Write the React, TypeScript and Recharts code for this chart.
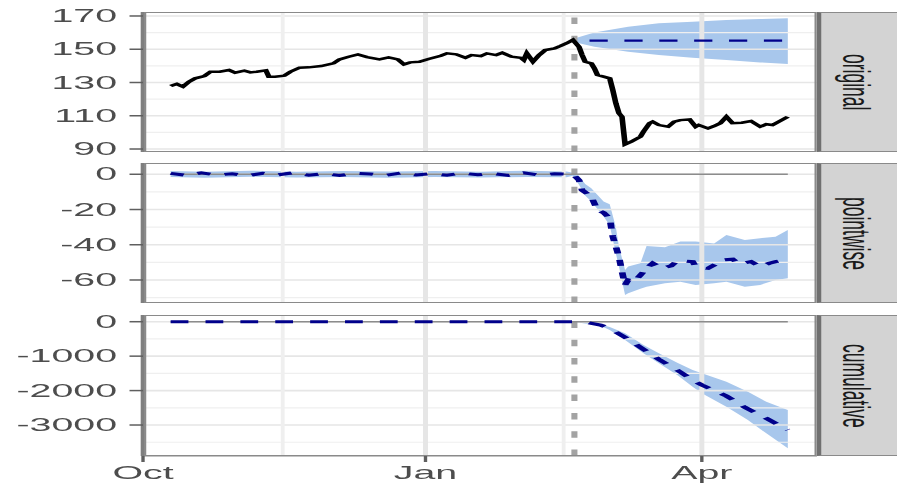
import React from 'react';
import { ComposedChart, Line, Area, XAxis, YAxis, ReferenceLine } from 'recharts';

// ---------- data (x = days since 1 October) ----------
const xTickDays = [0, 92, 182];
const xTickLabels = ['Oct', 'Jan', 'Apr'];
const xMajorGrid = [0, 92, 182];
const xMinorGrid = [45.5, 137];
const interventionDay = 140.5;
const panelNames = ['original', 'pointwise', 'cumulative'];

const observedDays = [9, 11, 13, 15, 17, 20, 22, 25, 28, 30, 33, 35, 37, 40, 41, 43, 46, 48, 51, 54, 58, 62, 64, 67, 70, 73, 77, 80, 83, 85, 87, 90, 93, 97, 99, 102, 105, 107, 110, 112, 115, 117, 120, 123, 124, 125, 127, 129, 131, 134, 136, 138, 140, 142, 143, 144, 146, 147, 148, 150, 152, 153, 154, 155, 156, 157, 159, 160, 162, 163, 165, 166, 168, 171, 173, 175, 178, 180, 181, 184, 186, 188, 190, 192, 195, 198, 201, 203, 205, 207, 210];
const observedValues = [127.9, 129.1, 127.5, 130.5, 132.5, 133.9, 136.5, 136.5, 137.5, 135.9, 137.1, 136.1, 136.5, 137.3, 133.5, 133.5, 134.1, 136.5, 138.9, 139.1, 139.9, 141.5, 143.9, 145.5, 146.9, 145.3, 143.9, 145.1, 143.9, 140.9, 142.1, 142.5, 144.1, 146.1, 147.5, 146.9, 144.9, 146.5, 145.9, 147.5, 146.5, 147.9, 145.5, 144.9, 143.5, 147.5, 142.5, 146.5, 149.5, 150.5, 152, 153.6, 155.6, 151.5, 146.5, 142.5, 141.5, 138.5, 134.5, 133.5, 132.5, 125.5, 117.5, 111.5, 109.4, 92.8, 94.4, 95.4, 97.4, 100.4, 105.5, 106.4, 104.4, 103.4, 106.4, 107.4, 107.8, 103.4, 104.4, 102.4, 103.8, 105.5, 109.4, 105.5, 105.8, 106.8, 103.4, 104.9, 104.4, 106.4, 109.4];

const predDays = [140, 210];
const predValues = [155.2, 155.2];
const predBandDays = [140, 141, 147, 158, 168, 179, 190, 201, 210];
const predBandLo = [155.4, 154, 151.5, 148.5, 146.5, 144.9, 143.5, 142.1, 141.1];
const predBandHi = [155.4, 156.8, 160, 163.6, 165.6, 166.6, 167.6, 168.2, 168.6];

const pointwiseDays = [9, 14, 19, 24, 29, 34, 39, 44, 49, 54, 59, 64, 69, 74, 79, 84, 89, 94, 99, 104, 109, 114, 119, 124, 129, 134, 140, 142, 143, 146, 148, 150, 152, 153, 155, 156, 157, 158, 160, 162, 164, 166, 169, 172, 174, 179, 180, 184, 187, 189, 192, 194, 198, 201, 204, 206, 210];
const pointwiseValues = [0.5, -0.6, 0.8, -0.4, 0.3, -0.8, 0.6, -0.3, 0.9, -0.5, 0.4, -0.7, 0.5, 0.2, -0.6, 0.7, -0.4, 0.3, -0.5, 0.6, -0.3, 0.4, -0.6, 0.8, -0.5, 0.3, 0, -3.3, -9, -12.7, -20.3, -21.8, -25, -35.4, -46.8, -55.3, -62.8, -60, -60.9, -57.2, -53.4, -50.5, -53.4, -52, -49, -49.6, -52.4, -53.4, -50.5, -48.6, -48.2, -50.9, -49.6, -52.4, -50.5, -49.6, -48.6];
const pointBandDays = [9, 20, 35, 50, 65, 80, 95, 110, 125, 138, 140, 142, 144, 146, 150, 152, 154, 155, 157, 158, 162, 164, 170, 175, 180, 186, 190, 196, 201, 206, 210];
const pointBandLo = [-1.5, -2, -1.4, -1.9, -1.5, -2, -1.6, -1.8, -1.5, -1.7, -0.8, -6, -12, -15.5, -24, -29, -45, -52.4, -68.5, -67.5, -65, -63.8, -61.9, -61, -62.8, -61.9, -61, -63.8, -62.8, -60, -59];
const pointBandHi = [1.9, 1.4, 2, 1.5, 1.8, 1.6, 1.9, 1.5, 2, 1.6, 0.8, -1, -5.5, -8, -15.5, -17, -30, -41, -54.3, -52.4, -50.5, -40.7, -41.4, -38.2, -38.2, -39.3, -34.5, -37.3, -36.3, -35.4, -31.6];

const cumulativeDays = [9, 140, 145, 149, 152, 157, 163, 168, 174, 179, 182, 190, 196, 203, 210];
const cumulativeValues = [0, 0, -29, -96, -193, -453, -802, -1092, -1403, -1693, -1838, -2158, -2486, -2806, -3146];
const cumBandDays = [140, 149, 152, 157, 163, 168, 174, 179, 182, 190, 197, 203, 210];
const cumBandLo = [0, -115, -241, -531, -918, -1209, -1548, -1888, -2080, -2469, -2855, -3241, -3677];
const cumBandHi = [0, -80, -150, -338, -677, -918, -1190, -1403, -1500, -1743, -2033, -2324, -2564];

const zeroDays = [9, 210];
const zeroValues = [0, 0];

const originalTicks = [90, 110, 130, 150, 170];
const originalMinor = [100, 120, 140, 160];
const pointwiseTicks = [0, -20, -40, -60];
const pointwiseMinor = [-10, -30, -50, -70];
const cumulativeTicks = [0, -1000, -2000, -3000];
const cumulativeMinor = [-500, -1500, -2500, -3500];

// ---------- helpers ----------
const series = (days: number[], vals: number[]) => days.map((d, i) => ({ day: d, value: vals[i] }));
const band = (days: number[], lo: number[], hi: number[]) => days.map((d, i) => ({ day: d, range: [lo[i], hi[i]] }));

// ---------- layout (pre-stretch coordinates) ----------
const S = 2.25;
const TOTAL_W = 399;
const PLOT_LEFT = 63.56;
const PLOT_RIGHT = 363.1;
const CHART_W = 364;
const FONT = '"Liberation Sans", Arial, sans-serif';
const BAND = '#a8c7ec';
const DARKBLUE = '#00008b';
const GRID_MAJOR = '#e6e6e6';
const GRID_MINOR = '#efefef';
const BORDER = '#8a8a8a';

const tickStyle = { fill: '#4d4d4d', fontSize: 17.5, fontFamily: FONT };

function grid(yMajor: number[], yMinor: number[]) {
  return [
    ...yMinor.map((v) => <ReferenceLine key={'ym' + v} y={v} stroke={GRID_MINOR} strokeWidth={1.2} />),
    ...yMajor.map((v) => <ReferenceLine key={'yM' + v} y={v} stroke={GRID_MAJOR} strokeWidth={1.6} />),
    ...xMinorGrid.map((v) => <ReferenceLine key={'xm' + v} x={v} stroke={GRID_MINOR} strokeWidth={1.7} />),
    ...xMajorGrid.map((v) => <ReferenceLine key={'xM' + v} x={v} stroke={GRID_MAJOR} strokeWidth={2.2} />),
    <ReferenceLine key="vline" x={interventionDay} stroke="#a3a3a3" strokeWidth={2.7} strokeDasharray="6.5 11.8" />,
  ];
}

function yAxis(domain: number[], ticks: number[]) {
  return (
    <YAxis
      type="number"
      domain={domain}
      ticks={ticks}
      interval={0}
      allowDataOverflow
      width={PLOT_LEFT}
      tickSize={6}
      tickMargin={5.5}
      tick={tickStyle}
      tickLine={{ stroke: '#5f5f5f', strokeWidth: 1.5 }}
      axisLine={{ stroke: '#7f7f7f', strokeWidth: 2 }}
    />
  );
}

function Strip({ top, height, label }: { top: number; height: number; label: string }) {
  return (
    <div
      style={{
        position: 'absolute',
        left: PLOT_RIGHT,
        top,
        width: TOTAL_W - PLOT_RIGHT,
        height,
        boxSizing: 'border-box',
        background: '#d3d3d3',
        borderTop: `1px solid ${BORDER}`,
        borderBottom: `1px solid ${BORDER}`,
        borderLeft: '2.6px solid #707070',
        display: 'flex',
        alignItems: 'center',
        justifyContent: 'center',
        paddingRight: 4,
      }}
    >
      <span style={{ writingMode: 'vertical-rl', fontFamily: FONT, fontSize: 17.5, color: '#1a1a1a', lineHeight: 1 }}>{label}</span>
    </div>
  );
}

function Border({ top, height }: { top: number; height: number }) {
  return (
    <div
      style={{
        position: 'absolute',
        left: PLOT_LEFT,
        top,
        width: PLOT_RIGHT - PLOT_LEFT,
        height,
        boxSizing: 'border-box',
        border: `1px solid ${BORDER}`,
        pointerEvents: 'none',
      }}
    />
  );
}

const panels = [
  { top: 12, height: 140 },
  { top: 163, height: 140 },
  { top: 315, height: 141 },
];

export default function App() {
  const xAxisHidden = <XAxis type="number" dataKey="day" domain={[0, 219.5]} allowDataOverflow hide />;
  return (
    <div style={{ position: 'absolute', left: 0, top: 0, width: 897, height: 485, background: '#fff', overflow: 'hidden' }}>
      <div
        style={{
          position: 'absolute',
          left: 0,
          top: 0,
          width: TOTAL_W,
          height: 485,
          transform: `scaleX(${S})`,
          transformOrigin: '0 0',
        }}
      >
        {/* original */}
        <div style={{ position: 'absolute', left: 0, top: panels[0].top - 10 }}>
          <ComposedChart width={CHART_W} height={panels[0].height + 20} margin={{ top: 10, bottom: 10, left: 0, right: CHART_W - PLOT_RIGHT }}>
            {xAxisHidden}
            {yAxis([88.2, 172.4], originalTicks)}
            {grid(originalTicks, originalMinor)}
            <Area data={band(predBandDays, predBandLo, predBandHi)} dataKey="range" type="linear" stroke="none" fill={BAND} fillOpacity={1} isAnimationActive={false} />
            <Line data={series(predDays, predValues)} dataKey="value" type="linear" stroke={DARKBLUE} strokeWidth={2.3} strokeDasharray="8.1 7.4" strokeDashoffset={8.1} dot={false} activeDot={false} isAnimationActive={false} />
            <Line data={series(observedDays, observedValues)} dataKey="value" type="linear" stroke="#000" strokeWidth={2.5} dot={false} activeDot={false} isAnimationActive={false} />
          </ComposedChart>
        </div>

        {/* pointwise */}
        <div style={{ position: 'absolute', left: 0, top: panels[1].top - 10 }}>
          <ComposedChart width={CHART_W} height={panels[1].height + 20} margin={{ top: 10, bottom: 10, left: 0, right: CHART_W - PLOT_RIGHT }}>
            {xAxisHidden}
            {yAxis([-73.06, 6.4], pointwiseTicks)}
            {grid(pointwiseTicks, pointwiseMinor)}
            <Area data={band(pointBandDays, pointBandLo, pointBandHi)} dataKey="range" type="linear" stroke="none" fill={BAND} fillOpacity={1} isAnimationActive={false} />
            <Line data={series(zeroDays, zeroValues)} dataKey="value" type="linear" stroke="#8c8c8c" strokeWidth={1.5} dot={false} activeDot={false} isAnimationActive={false} />
            <Line data={series(pointwiseDays, pointwiseValues)} dataKey="value" type="linear" stroke={DARKBLUE} strokeWidth={3} strokeDasharray="6 6.5" dot={false} activeDot={false} isAnimationActive={false} />
          </ComposedChart>
        </div>

        {/* cumulative */}
        <div style={{ position: 'absolute', left: 0, top: panels[2].top - 10 }}>
          <ComposedChart width={CHART_W} height={panels[2].height + 10 + 30} margin={{ top: 10, bottom: 0, left: 0, right: CHART_W - PLOT_RIGHT }}>
            <XAxis
              type="number"
              dataKey="day"
              domain={[0, 219.5]}
              allowDataOverflow
              ticks={xTickDays}
              interval={0}
              height={30}
              tickSize={6}
              tickMargin={5}
              tickFormatter={(v: number) => xTickLabels[xTickDays.indexOf(v)]}
              tick={tickStyle}
              tickLine={{ stroke: '#5f5f5f', strokeWidth: 1.5 }}
              axisLine={{ stroke: BORDER, strokeWidth: 1 }}
            />
            {yAxis([-3900, 195], cumulativeTicks)}
            {grid(cumulativeTicks, cumulativeMinor)}
            <Area data={band(cumBandDays, cumBandLo, cumBandHi)} dataKey="range" type="linear" stroke="none" fill={BAND} fillOpacity={1} isAnimationActive={false} />
            <Line data={series(zeroDays, zeroValues)} dataKey="value" type="linear" stroke="#8c8c8c" strokeWidth={1.5} dot={false} activeDot={false} isAnimationActive={false} />
            <Line data={series(cumulativeDays, cumulativeValues)} dataKey="value" type="linear" stroke={DARKBLUE} strokeWidth={3} strokeDasharray="7.9 7.6" dot={false} activeDot={false} isAnimationActive={false} />
          </ComposedChart>
        </div>

        {panels.map((p, i) => (
          <React.Fragment key={i}>
            <Border top={p.top} height={p.height} />
            <Strip top={p.top} height={p.height} label={panelNames[i]} />
          </React.Fragment>
        ))}
      </div>
    </div>
  );
}
